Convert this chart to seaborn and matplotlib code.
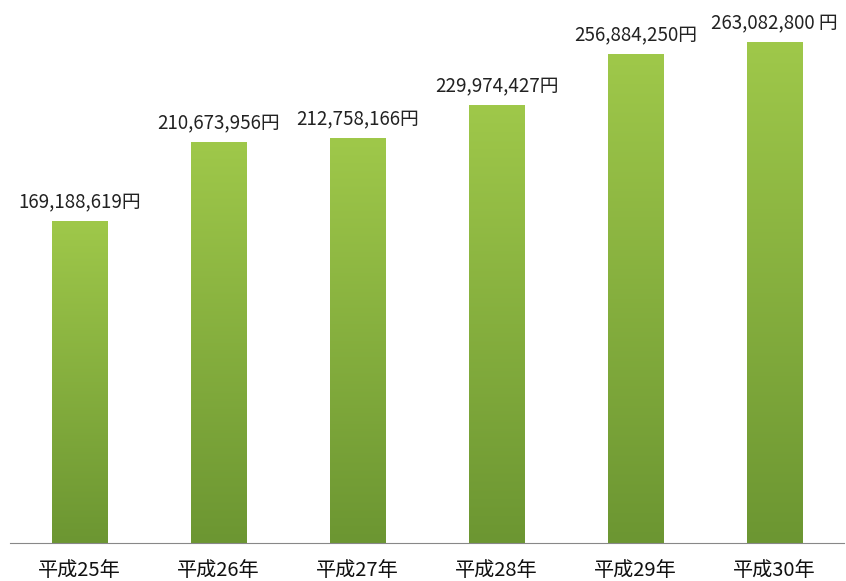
import numpy as np
import pandas as pd
import seaborn as sns
import matplotlib.pyplot as plt
from matplotlib.colors import LinearSegmentedColormap

# Data
years = ["平成25年", "平成26年", "平成27年", "平成28年", "平成29年", "平成30年"]
amounts = [169188619, 210673956, 212758166, 229974427, 256884250, 263082800]
labels = ["169,188,619円", "210,673,956円", "212,758,166円",
          "229,974,427円", "256,884,250円", "263,082,800 円"]

df = pd.DataFrame({"year": years, "amount": amounts})

sns.set_style("white")
plt.rcParams["font.family"] = ["Noto Sans CJK JP", "DejaVu Sans"]

fig = plt.figure(figsize=(8.46, 5.81), dpi=100)
ax = fig.add_axes([10 / 846, 38 / 581, 834 / 846, 543 / 581])

sns.barplot(data=df, x="year", y="amount", color="#86b23d", width=0.4,
            ax=ax, saturation=1)

# gradient fill on each bar
cmap = LinearSegmentedColormap.from_list("g", ["#6c9632", "#9fc84a"])
grad = np.linspace(0, 1, 256).reshape(-1, 1)
for p in ax.patches:
    x0, y0 = p.get_x(), p.get_y()
    w, h = p.get_width(), p.get_height()
    im = ax.imshow(grad, cmap=cmap, aspect="auto", origin="lower",
                   extent=[x0, x0 + w, y0, y0 + h], zorder=p.get_zorder() + 0.1)
    im.set_clip_path(p)

for p, lab in zip(ax.patches, labels):
    ax.text(p.get_x() + p.get_width() / 2, p.get_height() + 4e6, lab,
            ha="center", va="bottom", fontsize=13.5, color="#222222")

ax.set_xlim(-0.5, 5.5)
ax.set_ylim(0, 285.3e6)
ax.set_xlabel("")
ax.set_ylabel("")
ax.set_yticks([])
for s in ["top", "right", "left"]:
    ax.spines[s].set_visible(False)
ax.spines["bottom"].set_color("#888888")
ax.set_xticks(np.arange(-0.5, 6, 1), minor=True)
ax.tick_params(axis="x", which="minor", length=6, color="#888888", direction="out")
ax.tick_params(axis="x", which="major", length=0, labelsize=14.5, pad=12,
               labelcolor="#111111")

fig.savefig("out.png", dpi=100)
